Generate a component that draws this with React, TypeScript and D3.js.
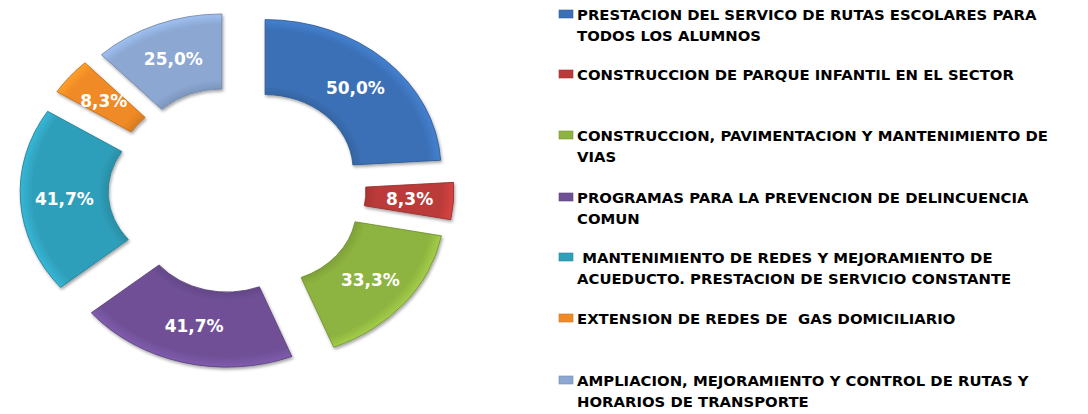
import React, { useEffect, useRef } from "react";
import * as d3 from "d3";

const categories = [
  "PRESTACION DEL SERVICO DE RUTAS ESCOLARES PARA|TODOS LOS ALUMNOS",
  "CONSTRUCCION DE PARQUE INFANTIL EN EL SECTOR",
  "CONSTRUCCION, PAVIMENTACION Y MANTENIMIENTO DE|VIAS",
  "PROGRAMAS PARA LA PREVENCION DE DELINCUENCIA|COMUN",
  " MANTENIMIENTO DE REDES Y MEJORAMIENTO DE|ACUEDUCTO. PRESTACION DE SERVICIO CONSTANTE",
  "EXTENSION DE REDES DE  GAS DOMICILIARIO",
  "AMPLIACION, MEJORAMIENTO Y CONTROL DE RUTAS Y|HORARIOS DE TRANSPORTE",
];
const values = [50.0, 8.3, 33.3, 41.7, 41.7, 8.3, 25.0];
const colors = ["#3b70b6", "#bb3b3a", "#8db33f", "#6f5097", "#2f9fba", "#ef8a25", "#8ba7d2"];
const legendY = [15, 75, 136, 198, 258, 319, 381];

export default function App() {
  const ref = useRef<SVGSVGElement>(null);

  useEffect(() => {
    const svg = d3.select(ref.current);
    svg.selectAll("*").remove();

    const cx = 237, cy = 190, R = 150, r = 75, sx = 1.173;
    const exX = 41, exY = 28;

    const defs = svg.append("defs");
    const f = defs.append("filter").attr("id", "sh").attr("x", "-20%").attr("y", "-20%").attr("width", "140%").attr("height", "140%");
    f.append("feDropShadow").attr("dx", 1).attr("dy", 2).attr("stdDeviation", 1.5).attr("flood-color", "#000").attr("flood-opacity", 0.35);

    colors.forEach((c, i) => {
      const g = defs.append("radialGradient").attr("id", "gr" + i)
        .attr("gradientUnits", "userSpaceOnUse").attr("cx", 0).attr("cy", 0).attr("r", R);
      g.append("stop").attr("offset", "50%").attr("stop-color", d3.color(c)!.darker(0.3).toString());
      g.append("stop").attr("offset", "56%").attr("stop-color", c);
      g.append("stop").attr("offset", "93%").attr("stop-color", c);
      g.append("stop").attr("offset", "100%").attr("stop-color", d3.color(c)!.brighter(0.4).toString());
    });

    const pie = d3.pie<number>().sort(null).value(d => d);
    const arcs = pie(values);
    const arc = d3.arc<d3.PieArcDatum<number>>().innerRadius(r).outerRadius(R);

    // exploded slices, stretched horizontally like the original
    const chart = svg.append("g");
    arcs.forEach((a, i) => {
      const mid = (a.startAngle + a.endAngle) / 2;
      const ox = cx + exX * Math.sin(mid);
      const oy = cy - exY * Math.cos(mid);
      const g = chart.append("g").attr("transform", `translate(${ox},${oy})`);
      g.append("path")
        .attr("transform", `scale(${sx},1)`)
        .attr("d", arc(a)!)
        .attr("fill", `url(#gr${i})`)
        .attr("stroke", d3.color(colors[i])!.darker(0.6).toString())
        .attr("stroke-width", 0.8)
        .attr("filter", "url(#sh)");
      const [lx, ly] = arc.centroid(a);
      g.append("text")
        .attr("x", lx * sx)
        .attr("y", ly)
        .attr("dy", "0.36em")
        .attr("text-anchor", "middle")
        .attr("fill", "#fff")
        .attr("font-family", "DejaVu Sans, Verdana, sans-serif")
        .attr("font-weight", "bold")
        .attr("font-size", 17)
        .text(d3.format(".1f")(values[i]).replace(".", ",") + "%");
    });

    const legend = svg.append("g");
    categories.forEach((cat, i) => {
      const y = legendY[i];
      legend.append("rect")
        .attr("x", 559).attr("y", y - 5).attr("width", 14).attr("height", 8)
        .attr("fill", colors[i]).attr("stroke", d3.color(colors[i])!.darker(0.5).toString()).attr("stroke-width", 0.6);
      cat.split("|").forEach((line, j) => {
        legend.append("text")
          .attr("transform", `translate(577,${y + j * 21.5}) scale(1.1,1)`)
          .attr("dy", "0.36em")
          .attr("xml:space", "preserve")
          .style("white-space", "pre")
          .attr("font-family", "DejaVu Sans, Verdana, sans-serif")
          .attr("font-weight", "bold")
          .attr("font-size", 13.5)
          .attr("fill", "#000")
          .text(line);
      });
    });
  }, []);

  return (
    <svg ref={ref} width={1088} height={414}
      style={{ position: "absolute", left: 0, top: 0, background: "#fff" }} />
  );
}
